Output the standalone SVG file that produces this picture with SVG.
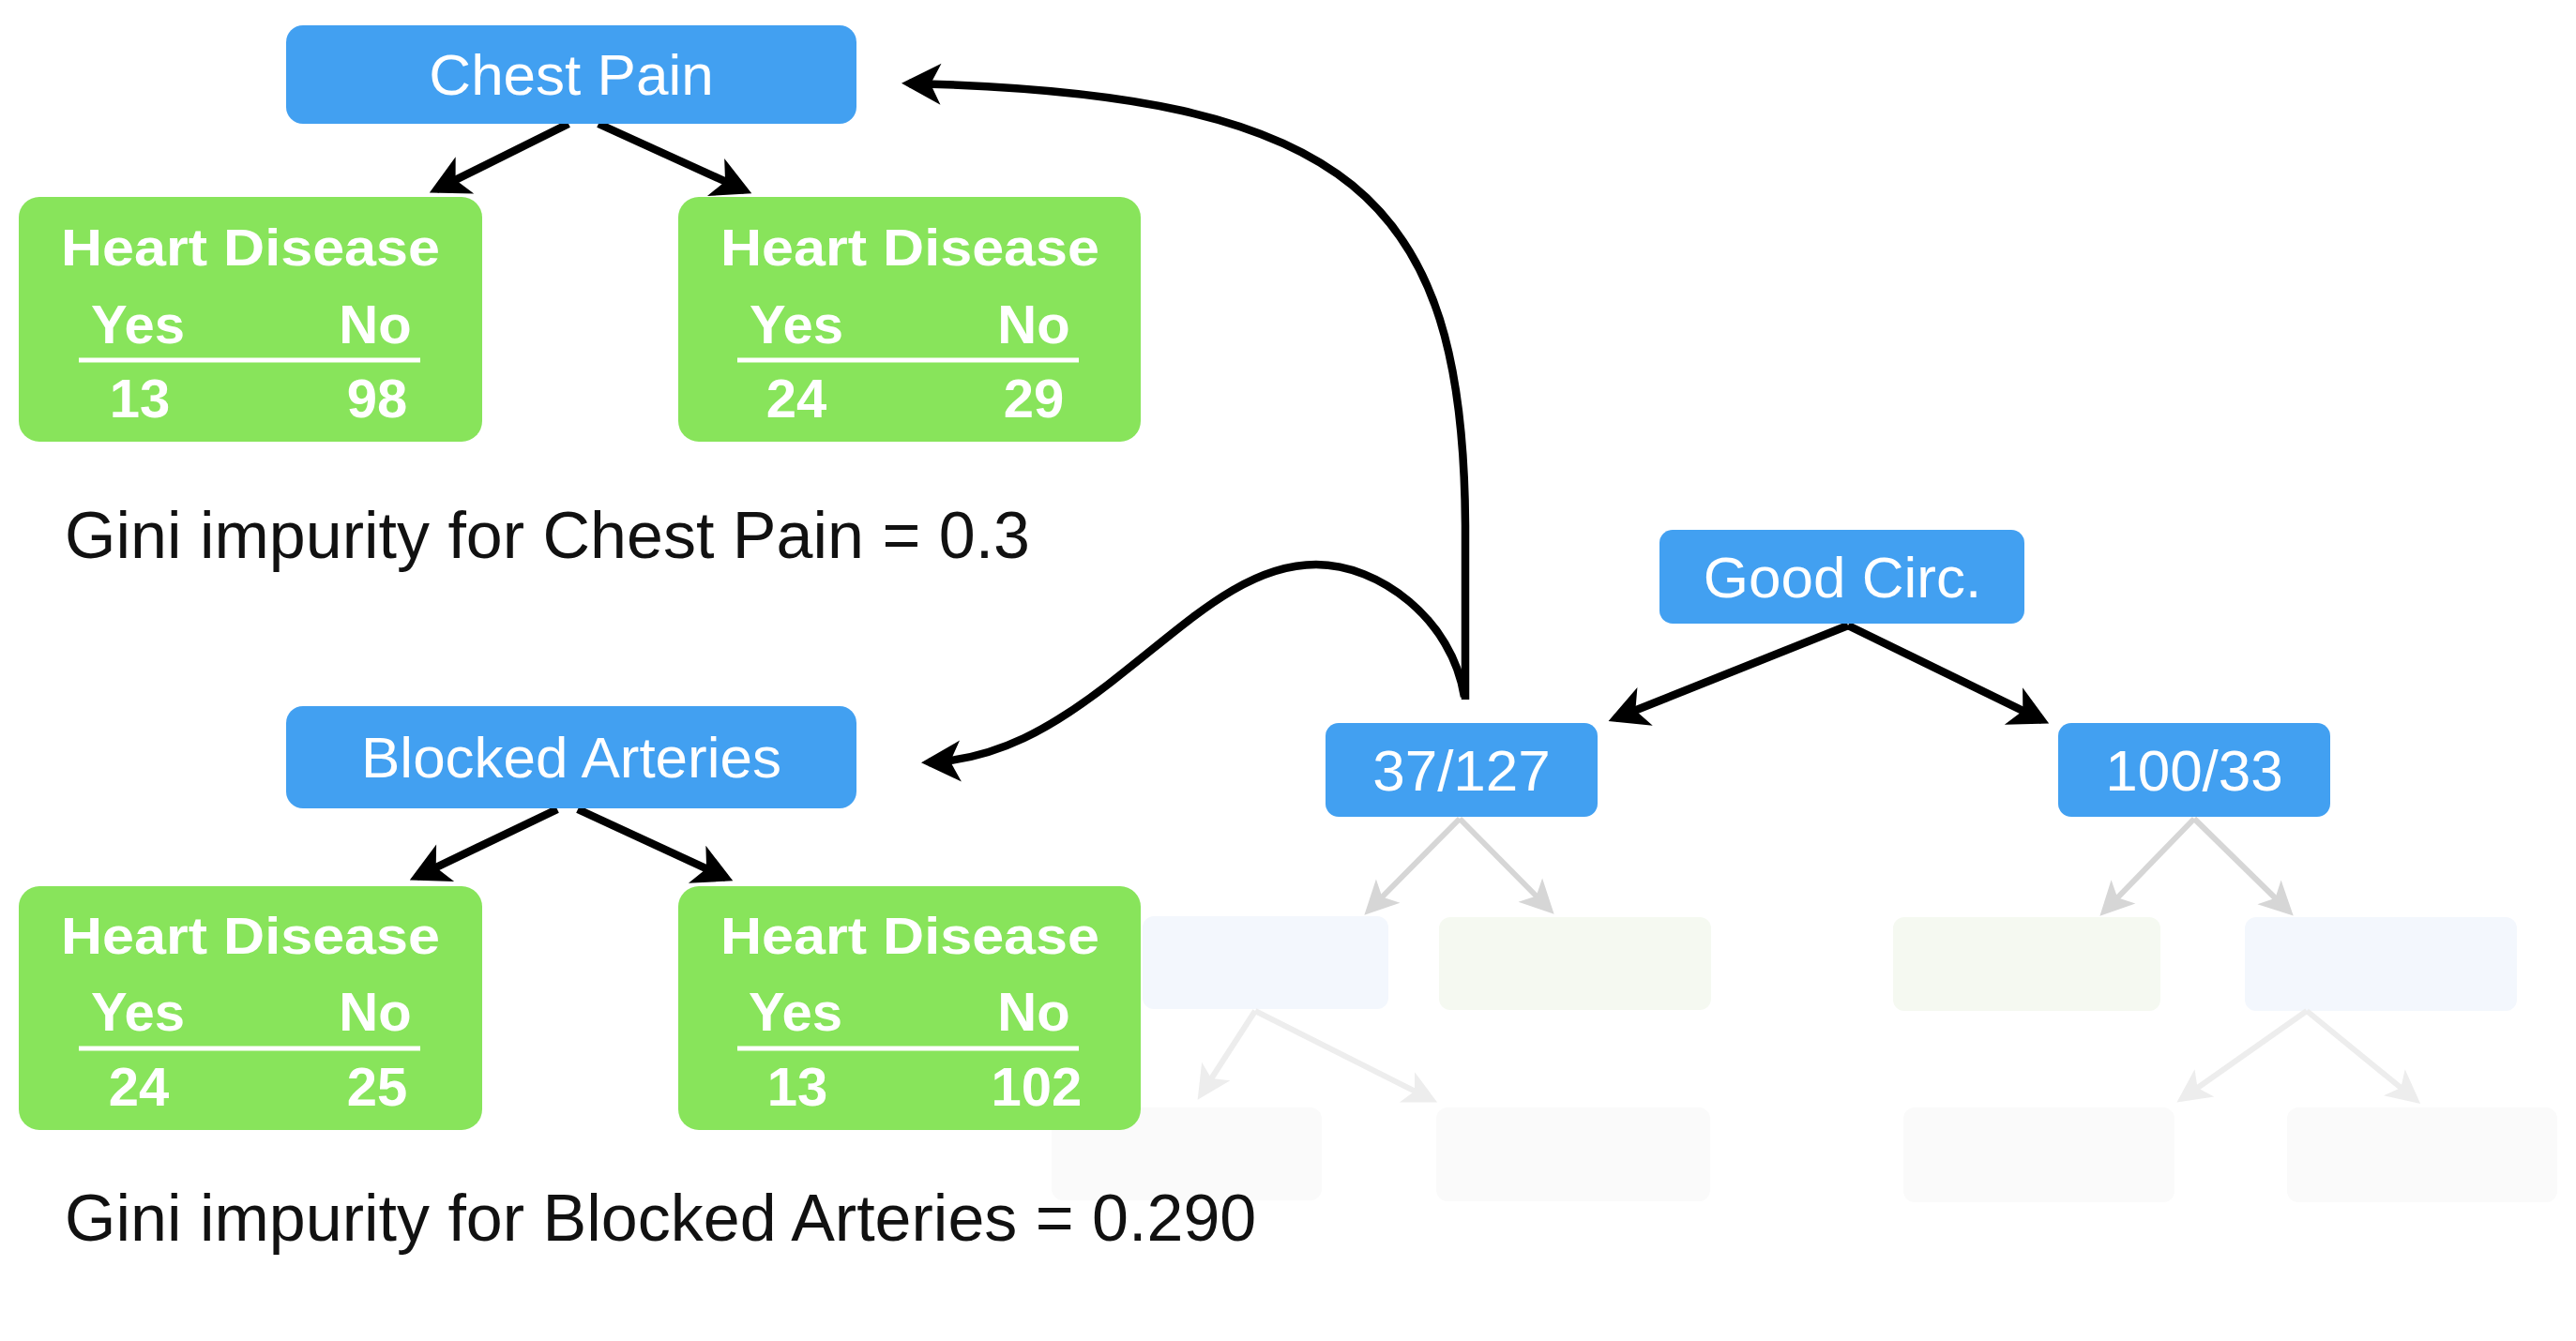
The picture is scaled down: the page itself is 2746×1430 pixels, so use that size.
<svg xmlns="http://www.w3.org/2000/svg" width="2746" height="1430" viewBox="0 0 2746 1430">
<style>
.blue{fill:#42A0F1}
.green{fill:#88E45B}
.fblue{fill:#F3F7FD}
.fgreen{fill:#F5F9F1}
.ffaint{fill:#FAFAFA}
.t{font-family:"Liberation Sans",Arial,Helvetica,sans-serif;fill:#fff;text-anchor:middle}
.bt{font-size:62px}
.hd{font-size:56px;font-weight:bold}
.yn{font-size:58px;font-weight:bold}
.gini{font-family:"Liberation Sans",Arial,Helvetica,sans-serif;font-size:70px;fill:#111}
.arr{fill:none;stroke:#000;stroke-width:8.5}
.garr{fill:none;stroke:#D6D6D6;stroke-width:6}
.garr2{fill:none;stroke:#EDEDED;stroke-width:6}
.rule{stroke:#fff;stroke-width:5}
</style>
<defs>
<marker id="ah" viewBox="-50 -30 60 60" markerWidth="60" markerHeight="60" refX="-8" refY="0" orient="auto" markerUnits="userSpaceOnUse">
<path d="M0,0 L-42,-22 L-31,0 L-42,22 Z" fill="#000"/>
</marker>
<marker id="ahg" viewBox="-50 -30 60 60" markerWidth="60" markerHeight="60" refX="-8" refY="0" orient="auto" markerUnits="userSpaceOnUse">
<path d="M0,0 L-36,-18 L-27,0 L-36,18 Z" fill="#D6D6D6"/>
</marker>
<marker id="ahg2" viewBox="-50 -30 60 60" markerWidth="60" markerHeight="60" refX="-8" refY="0" orient="auto" markerUnits="userSpaceOnUse">
<path d="M0,0 L-36,-18 L-27,0 L-36,18 Z" fill="#EDEDED"/>
</marker>
</defs>
<rect width="2746" height="1430" fill="#fff"/>

<g id="faded">
<rect class="fblue" x="1218" y="977" width="262" height="99" rx="12"/>
<rect class="fgreen" x="1534" y="978" width="290" height="99" rx="12"/>
<rect class="fgreen" x="2018" y="978" width="285" height="100" rx="12"/>
<rect class="fblue" x="2393" y="978" width="290" height="100" rx="12"/>
<rect class="ffaint" x="1121" y="1181" width="288" height="99" rx="12"/>
<rect class="ffaint" x="1531" y="1181" width="292" height="100" rx="12"/>
<rect class="ffaint" x="2029" y="1181" width="289" height="101" rx="12"/>
<rect class="ffaint" x="2438" y="1181" width="288" height="101" rx="12"/>
</g>

<g id="connectors">
<path class="arr" d="M606,132 L465,202" marker-end="url(#ah)"/>
<path class="arr" d="M638,132 L794,203" marker-end="url(#ah)"/>
<path class="arr" d="M594,863 L444,935" marker-end="url(#ah)"/>
<path class="arr" d="M616,863 L774,936" marker-end="url(#ah)"/>
<path class="arr" d="M1970,667 L1722,766" marker-end="url(#ah)"/>
<path class="arr" d="M1970,667 L2177,768" marker-end="url(#ah)"/>
<path class="arr" d="M1562,746 L1562,560 C1560,210 1440,100 969,89" marker-end="url(#ah)"/>
<path class="arr" d="M1561,743 C1548,660 1470,602 1403,602 C1330,602 1270,660 1200,715 C1120,780 1060,810 990,813" marker-end="url(#ah)"/>
<path class="garr" d="M1556,873 L1460,970" marker-end="url(#ahg)"/>
<path class="garr" d="M1556,873 L1651,969" marker-end="url(#ahg)"/>
<path class="garr" d="M2339,873 L2244,971" marker-end="url(#ahg)"/>
<path class="garr" d="M2339,873 L2439,971" marker-end="url(#ahg)"/>
<path class="garr2" d="M1338,1078 L1281,1166" marker-end="url(#ahg2)"/>
<path class="garr2" d="M1338,1078 L1525,1172" marker-end="url(#ahg2)"/>
<path class="garr2" d="M2459,1078 L2327,1171" marker-end="url(#ahg2)"/>
<path class="garr2" d="M2459,1078 L2574,1172" marker-end="url(#ahg2)"/>
</g>

<g id="chest-pain">
<rect class="blue" x="305" y="27" width="608" height="105" rx="18"/>
<text class="t bt" x="609" y="101">Chest Pain</text>
</g>

<g id="cp-left">
<rect class="green" x="20" y="210" width="494" height="261" rx="22"/>
<text class="t hd" x="267" y="283" textLength="404" lengthAdjust="spacingAndGlyphs">Heart Disease</text>
<text class="t yn" x="147" y="366">Yes</text>
<text class="t yn" x="400" y="366">No</text>
<line class="rule" x1="84" y1="384" x2="448" y2="384"/>
<text class="t yn" x="149" y="445">13</text>
<text class="t yn" x="402" y="445">98</text>
</g>

<g id="cp-right">
<rect class="green" x="723" y="210" width="493" height="261" rx="22"/>
<text class="t hd" x="970" y="283" textLength="404" lengthAdjust="spacingAndGlyphs">Heart Disease</text>
<text class="t yn" x="849" y="366">Yes</text>
<text class="t yn" x="1102" y="366">No</text>
<line class="rule" x1="786" y1="384" x2="1150" y2="384"/>
<text class="t yn" x="849" y="445">24</text>
<text class="t yn" x="1102" y="445">29</text>
</g>

<g id="gini-chest">
<text class="gini" x="69" y="595">Gini impurity for Chest Pain = 0.3</text>
</g>

<g id="blocked-arteries">
<rect class="blue" x="305" y="753" width="608" height="109" rx="18"/>
<text class="t bt" x="609" y="829">Blocked Arteries</text>
</g>

<g id="ba-left">
<rect class="green" x="20" y="945" width="494" height="260" rx="22"/>
<text class="t hd" x="267" y="1017" textLength="404" lengthAdjust="spacingAndGlyphs">Heart Disease</text>
<text class="t yn" x="147" y="1099">Yes</text>
<text class="t yn" x="400" y="1099">No</text>
<line class="rule" x1="84" y1="1118" x2="448" y2="1118"/>
<text class="t yn" x="148" y="1179">24</text>
<text class="t yn" x="402" y="1179">25</text>
</g>

<g id="ba-right">
<rect class="green" x="723" y="945" width="493" height="260" rx="22"/>
<text class="t hd" x="970" y="1017" textLength="404" lengthAdjust="spacingAndGlyphs">Heart Disease</text>
<text class="t yn" x="848" y="1099">Yes</text>
<text class="t yn" x="1102" y="1099">No</text>
<line class="rule" x1="786" y1="1118" x2="1150" y2="1118"/>
<text class="t yn" x="850" y="1179">13</text>
<text class="t yn" x="1105" y="1179">102</text>
</g>

<g id="gini-blocked">
<text class="gini" x="69" y="1323">Gini impurity for Blocked Arteries = 0.290</text>
</g>

<g id="good-circ">
<rect class="blue" x="1769" y="565" width="389" height="100" rx="14"/>
<text class="t bt" x="1964" y="637">Good Circ.</text>
</g>

<g id="n37-127">
<rect class="blue" x="1413" y="771" width="290" height="100" rx="14"/>
<text class="t bt" x="1558" y="843">37/127</text>
</g>

<g id="n100-33">
<rect class="blue" x="2194" y="771" width="290" height="100" rx="14"/>
<text class="t bt" x="2339" y="843">100/33</text>
</g>
</svg>
